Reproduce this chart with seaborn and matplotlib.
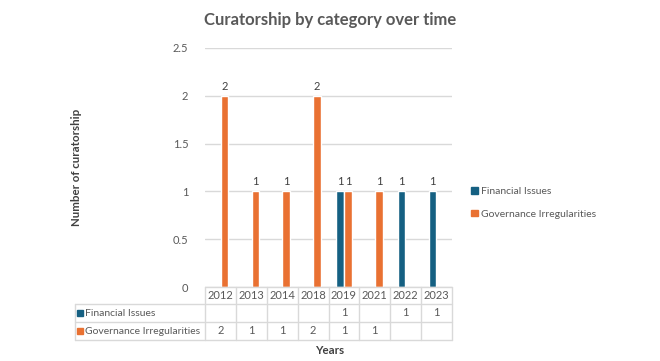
import numpy as np
import pandas as pd
import matplotlib
matplotlib.use("Agg")
import matplotlib.pyplot as plt
import seaborn as sns

years = ["2012", "2013", "2014", "2018", "2019", "2021", "2022", "2023"]
series_names = ["Financial Issues", "Governance Irregularities"]
financial = [None, None, None, None, 1, None, 1, 1]
governance = [2, 1, 1, 2, 1, 1, None, None]
yticks = [0, 0.5, 1, 1.5, 2, 2.5]
colors = ["#156082", "#E97132"]

rows = []
for name, vals in zip(series_names, [financial, governance]):
    for y, v in zip(years, vals):
        if v is not None:
            rows.append({"Year": y, "Category": name, "Count": v})
df = pd.DataFrame(rows)

sns.set_theme(style="white")
plt.rcParams["font.family"] = ["Lato", "DejaVu Sans"]
TXT = "#595959"
GRID = "#D9D9D9"

fig = plt.figure(figsize=(6.6, 3.61), dpi=100)
ax = fig.add_axes([205/660, 1-287/361, 247/660, 239/361])

sns.barplot(data=df, x="Year", y="Count", hue="Category", order=years,
            hue_order=series_names, palette=colors, width=0.52, gap=0.06,
            ax=ax, legend=False, saturation=1)

for c in ax.containers:
    ax.bar_label(c, fmt="%g", padding=3, fontsize=8, color="#404040")

ax.set_xlim(-0.5, len(years) - 0.5)
ax.set_ylim(0, 2.5)
ax.set_yticks(yticks)
ax.set_yticklabels([f"{t:g}" for t in yticks], color=TXT, fontsize=8)
ax.tick_params(axis="y", length=0, pad=12)
ax.set_xticks([])
ax.set_xlabel("")
ax.set_ylabel("")
for s in ax.spines.values():
    s.set_visible(False)
ax.yaxis.grid(True, color=GRID, linewidth=1)
ax.set_axisbelow(True)

# data table
tr = ax.get_xaxis_transform()
unit = 247 / len(years)
left_x = -0.5 - (205 - 75) / unit
r0, r1, r2, r3 = 0, -(304-287)/239, -(322-287)/239, -(340-287)/239
lk = dict(color=GRID, linewidth=1, transform=tr, clip_on=False)
ax.plot([-0.5, len(years)-0.5], [r0, r0], **lk)
for r in (r1, r2, r3):
    ax.plot([left_x, len(years)-0.5], [r, r], **lk)
for i in range(len(years)+1):
    ax.plot([i-0.5, i-0.5], [r0, r3], **lk)
ax.plot([left_x, left_x], [r1, r3], **lk)

for i, y in enumerate(years):
    ax.text(i, (r0+r1)/2, y, ha="center", va="center", fontsize=8, color=TXT, transform=tr)
for (name, vals, col, ra, rb) in [(series_names[0], financial, colors[0], r1, r2),
                                   (series_names[1], governance, colors[1], r2, r3)]:
    ym = (ra+rb)/2
    ax.plot([left_x + 0.15], [ym], marker="s", markersize=5, color=col,
            transform=tr, clip_on=False, linestyle="none")
    ax.text(left_x + 0.32, ym, name, ha="left", va="center", fontsize=7.5, color=TXT, transform=tr)
    for i, v in enumerate(vals):
        if v is not None:
            ax.text(i, ym, f"{v:g}", ha="center", va="center", fontsize=8, color=TXT, transform=tr)

# legend
from matplotlib.patches import Patch
handles = [Patch(facecolor=c, edgecolor=c) for c in colors]
fig.legend(handles, series_names, loc="center left", bbox_to_anchor=(462/660, 1-203/361),
           frameon=False, fontsize=7.5, handlelength=0.6, handleheight=0.6,
           handletextpad=0.3, labelspacing=1.3, labelcolor=TXT)

fig.text(0.5, 1-20/361, "Curatorship by category over time", ha="center", va="center",
         fontsize=12, fontweight="bold", color=TXT)
fig.text(77/660, 1-167/361, "Number of curatorship", rotation=90, ha="center", va="center",
         fontsize=8.3, fontweight="bold", color="#404040")
fig.text(330/660, 1-351/361, "Years", ha="center", va="center",
         fontsize=8.3, fontweight="bold", color="#404040")

fig.savefig("out.png", dpi=100)
